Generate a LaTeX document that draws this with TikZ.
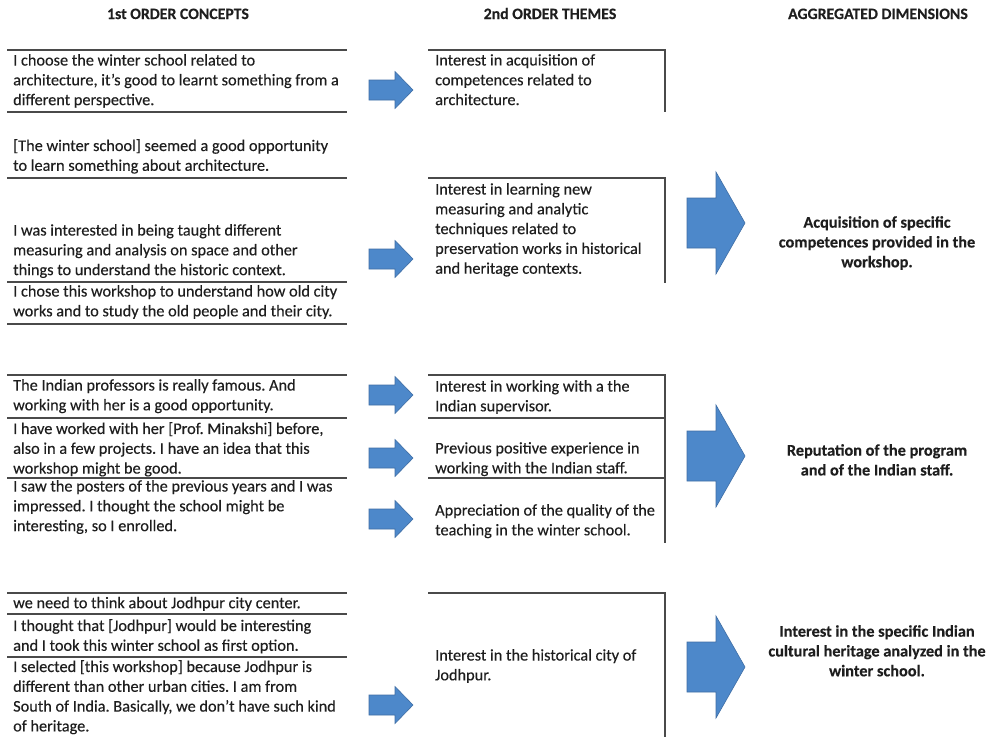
\documentclass[tikz,border=0pt]{standalone}
\usepackage{fontspec}
\setmainfont{Carlito}[FakeBold=0.25]
\definecolor{arrowblue}{HTML}{4D88CA}
\definecolor{arrowedge}{HTML}{3F6EA5}
\definecolor{rulegray}{HTML}{4A4A4A}
\definecolor{textgray}{HTML}{1E1E1E}
\newcommand\txtsize{\fontsize{16.3}{19.8}\selectfont}
\newcommand\hdrsize{\fontsize{15.8}{18}\selectfont\bfseries}
\newcommand\firstrule{\rule{0pt}{13pt}}
\frenchspacing
\tikzset{
  quote/.style={anchor=north west, inner sep=0pt, align=left, font=\txtsize, text=textgray, execute at begin node=\firstrule},
  dim/.style={anchor=north, inner sep=0pt, align=center, font=\txtsize\bfseries, text=textgray, execute at begin node=\firstrule},
  hdr/.style={anchor=base, inner sep=0pt, font=\hdrsize, text=textgray},
  sepline/.style={draw=rulegray, line width=1.2pt},
  arrowbody/.style={fill=arrowblue, draw=arrowedge, line width=0.6pt, line join=miter},
  smallarrow/.pic={\filldraw[arrowbody] (-22,-10) -- (4,-10) -- (4,-18.5) -- (22,0) -- (4,18.5) -- (4,10) -- (-22,10) -- cycle;},
  bigarrow/.pic={\filldraw[arrowbody] (-29,-25) -- (0,-25) -- (0,-51) -- (29,0) -- (0,51) -- (0,25) -- (-29,25) -- cycle;}
}
\begin{document}
\begin{tikzpicture}[x=1pt,y=-1pt]
\useasboundingbox (0,0) rectangle (990,737);
\fill[white] (0,0) rectangle (990,737);

% headers
\node[hdr] (h1) at (178,19) {1st ORDER CONCEPTS};
\node[hdr] (h2) at (550,19) {2nd ORDER THEMES};
\node[hdr] (h3) at (878,19) {AGGREGATED DIMENSIONS};

% left column rules
\foreach \yy in {50,112,178,282,324,375,418,478,593,614,657}
  \draw[sepline] (7,\yy) -- (347,\yy);

% left column quotes (top = first line centre - 8)
\node[quote] (q1) at (13,54) {I choose the winter school related to\\architecture, it's good to learnt something from a\\different perspective.};
\node[quote] (q2) at (13,139) {[The winter school] seemed a good opportunity\\to learn something about architecture.};
\node[quote] (q3) at (13,224) {I was interested in being taught different\\measuring and analysis on space and other\\things to understand the historic context.};
\node[quote] (q4) at (13,285) {I chose this workshop to understand how old city\\works and to study the old people and their city.};
\node[quote] (q5) at (13,379) {The Indian professors is really famous. And\\working with her is a good opportunity.};
\node[quote] (q6) at (13,422) {I have worked with her [Prof. Minakshi] before,\\also in a few projects. I have an idea that this\\workshop might be good.};
\node[quote] (q7) at (13,480) {I saw the posters of the previous years and I was\\impressed. I thought the school might be\\interesting, so I enrolled.};
\node[quote] (q8) at (13,595) {we need to think about Jodhpur city center.};
\node[quote] (q9) at (13,619) {I thought that [Jodhpur] would be interesting\\and I took this winter school as first option.};
\node[quote] (q10) at (13,660) {I selected [this workshop] because Jodhpur is\\different than other urban cities. I am from\\South of India. Basically, we don't have such kind\\of heritage.};

% middle column boxes
\draw[sepline] (428,50) -- (665,50) -- (665,112);
\draw[sepline] (428,178) -- (665,178) -- (665,283);
\draw[sepline] (428,375) -- (665,375) -- (665,543);
\draw[sepline] (428,418) -- (665,418);
\draw[sepline] (428,478) -- (665,478);
\draw[sepline] (428,593) -- (665,593) -- (665,737);

% middle column themes
\node[quote] (t1) at (435,54) {Interest in acquisition of\\competences related to\\architecture.};
\node[quote] (t2) at (435,183) {Interest in learning new\\measuring and analytic\\techniques related to\\preservation works in historical\\and heritage contexts.};
\node[quote] (t3) at (435,380) {Interest in working with a the\\Indian supervisor.};
\node[quote] (t4) at (435,442) {Previous positive experience in\\working with the Indian staff.};
\node[quote] (t5) at (435,504) {Appreciation of the quality of the\\teaching in the winter school.};
\node[quote] (t6) at (435,649) {Interest in the historical city of\\Jodhpur.};

% small arrows
\pic at (391,90) {smallarrow};
\pic at (391,259) {smallarrow};
\pic at (391,395) {smallarrow};
\pic at (391,458) {smallarrow};
\pic at (391,519) {smallarrow};
\pic at (391,705) {smallarrow};

% big arrows
\pic at (716,223) {bigarrow};
\pic at (716,456) {bigarrow};
\pic at (716,667) {bigarrow};

% aggregated dimensions
\node[dim] (d1) at (877,216) {Acquisition of specific\\competences provided in the\\workshop.};
\node[dim] (d2) at (877,444) {Reputation of the program\\and of the Indian staff.};
\node[dim] (d3) at (877,625) {Interest in the specific Indian\\cultural heritage analyzed in the\\winter school.};
\end{tikzpicture}
\end{document}
